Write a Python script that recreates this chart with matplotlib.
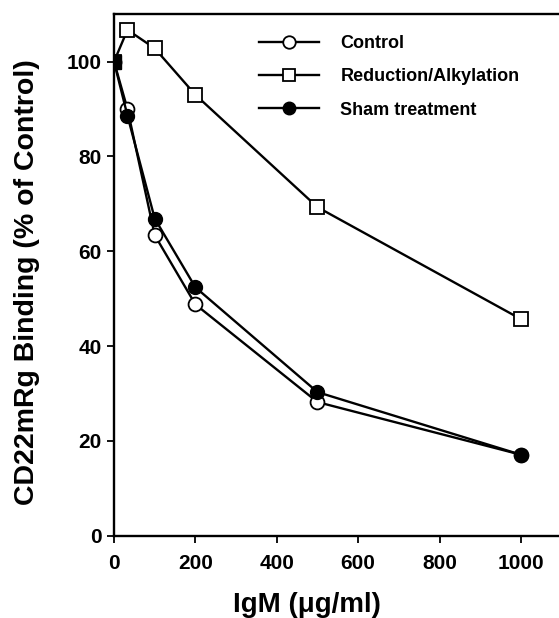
import numpy as np
import matplotlib
matplotlib.use("Agg")
import matplotlib.pyplot as plt

plt.rcParams['font.family'] = ['Liberation Sans', 'DejaVu Sans']
plt.rcParams['font.weight'] = 'bold'

# IgM concentration (ug/ml)
igm = [0, 33, 100, 200, 500, 1000]

control = [100, 90.0, 63.4, 48.8, 28.2, 17.1]
reduction = [100, 106.7, 102.8, 93.0, 69.3, 45.7]
sham = [100, 88.6, 66.9, 52.4, 30.3, 17.1]

labels = ["Control", "Reduction/Alkylation", "Sham treatment"]
xticks = [0, 200, 400, 600, 800, 1000]
yticks = [0, 20, 40, 60, 80, 100]

fig = plt.figure(figsize=(5.59, 6.18), dpi=100)
ax = fig.add_axes([0.204, 0.133, 0.80, 0.844])

lw = 1.7
ms = 10
ax.plot(igm, control, "-o", color="black", lw=lw, ms=ms, mfc="white",
        mec="black", mew=1.3, label=labels[0], zorder=3)
ax.plot(igm, reduction, "-s", color="black", lw=lw, ms=ms, mfc="white",
        mec="black", mew=1.3, label=labels[1], zorder=3)
ax.plot(igm, sham, "-o", color="black", lw=lw, ms=ms, mfc="black",
        mec="black", label=labels[2], zorder=4)
# overlapping markers at the origin show up as a filled square
ax.plot(igm[0], reduction[0], "s", color="black", ms=ms, zorder=5)

ax.set_xlim(0, 1099)
ax.set_ylim(0, 110)
ax.set_xticks(xticks)
ax.set_yticks(yticks)
ax.tick_params(direction="out", length=5, width=1.3, labelsize=15, pad=4)
ax.tick_params(axis="x", pad=8)
for t in ax.get_xticklabels() + ax.get_yticklabels():
    t.set_fontweight("bold")
ax.spines["right"].set_visible(False)
for s in ["left", "bottom", "top"]:
    ax.spines[s].set_linewidth(1.7)

ax.set_xlabel("IgM (\u03bcg/ml)", fontsize=20, fontweight="bold")
ax.set_ylabel("CD22mRg Binding (% of Control)", fontsize=20.5,
              fontweight="bold")
ax.xaxis.set_label_coords(0.432, -0.108)
ax.yaxis.set_label_coords(-0.166, 0.486)

leg = ax.legend(loc="upper left", bbox_to_anchor=(0.288, 0.991), frameon=False,
                fontsize=13, handlelength=3.3, handletextpad=1.2,
                labelspacing=0.9, markerscale=0.9)
for t in leg.get_texts():
    t.set_fontweight("bold")

fig.savefig("out.png", dpi=100)
